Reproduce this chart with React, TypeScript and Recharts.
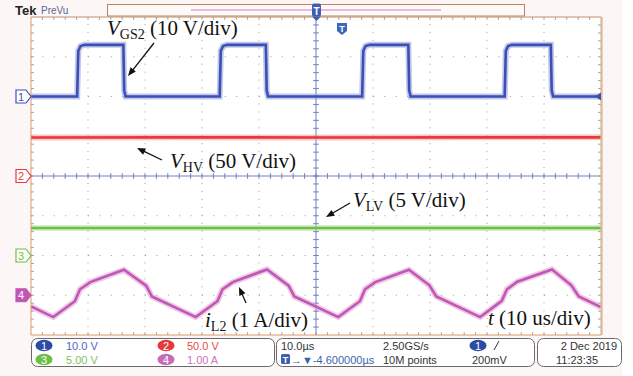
import { LineChart, Line, XAxis, YAxis, ReferenceLine } from "recharts";

// time base: 10 us/div, 10 divisions; vertical: 8 divisions
const timeDomain = [0, 100];
const divDomain = [-4, 4];

// CH1 V_GS2 (10 V/div), ground marker at +2 div
const gateTime = [0, 8.1, 8.3, 8.7, 9.4, 16.2, 16.35, 16.6, 33.1, 33.3, 33.7, 34.4, 41.2, 41.35, 41.6, 58.1, 58.3, 58.7, 59.4, 66.2, 66.35, 66.6, 83.1, 83.3, 83.7, 84.4, 91.2, 91.35, 91.6, 100];
const gateVolts = [0, 0, 11.5, 12.7, 13, 13, 1.5, 0, 0, 11.5, 12.7, 13, 13, 1.5, 0, 0, 11.5, 12.7, 13, 13, 1.5, 0, 0, 11.5, 12.7, 13, 13, 1.5, 0, 0];

// CH2 V_HV (50 V/div), ground marker at 0 div
const hvTime = [0, 25, 50, 75, 100];
const hvVolts = [48.5, 48.6, 48.5, 48.6, 48.6];

// CH3 V_LV (5 V/div), ground marker at -2 div
const lvTime = [0, 25, 50, 75, 100];
const lvVolts = [3.45, 3.45, 3.46, 3.45, 3.45];

// CH4 i_L2 (1 A/div), ground marker at -3 div
const iTime = [0, 3.9, 7.7, 8.6, 10.4, 16.3, 20.2, 21.2, 28.9, 32.7, 33.6, 35.4, 41.4, 45.2, 46.2, 53.9, 57.7, 58.6, 60.4, 66.3, 69.9, 71.1, 78.8, 82.6, 83.5, 85.3, 91.4, 94.8, 96.1, 100];
const iAmps = [-0.28, -0.55, -0.15, 0.15, 0.33, 0.64, 0.24, -0.03, -0.55, -0.15, 0.15, 0.33, 0.65, 0.24, -0.03, -0.55, -0.15, 0.15, 0.33, 0.64, 0.25, -0.03, -0.55, -0.14, 0.15, 0.34, 0.65, 0.25, -0.03, -0.3];

const channels = [
  { id: "ch1", time: gateTime, vals: gateVolts, perDiv: 10, offset: 2, color: "#3b4fb4", halo: "#8f9ad8" },
  { id: "ch2", time: hvTime, vals: hvVolts, perDiv: 50, offset: 0, color: "#e8383a", halo: "#f39a9a" },
  { id: "ch3", time: lvTime, vals: lvVolts, perDiv: 5, offset: -2, color: "#6cbf45", halo: "#b3e09a" },
  { id: "ch4", time: iTime, vals: iAmps, perDiv: 1, offset: -3, color: "#c257b3", halo: "#dea0d6" },
];

const W = 633;
const H = 376;
const PL = 31;
const PT = 17;
const PW = 570;
const PH = 318;
const divH = PH / 8;
const yOf = (d: number) => PT + (4 - d) * divH;

const majorX = [10, 20, 30, 40, 60, 70, 80, 90];
const majorY = [-3, -2, -1, 1, 2, 3];
const minorX = Array.from({ length: 49 }, (_, i) => (i + 1) * 2);
const minorY = Array.from({ length: 39 }, (_, i) => -4 + (i + 1) * 0.2);

const tickH = 0.07;
const tickW = 0.5;

const Marker = ({ n, d, color, filled }: { n: string; d: number; color: string; filled?: boolean }) => {
  const y = yOf(d);
  return (
    <g>
      <path
        d={`M16,${y - 6.5} h10 l5,6.5 l-5,6.5 h-10 z`}
        fill={filled ? color : "#fff"}
        stroke={color}
        strokeWidth={1.2}
      />
      <text x={21} y={y + 4} textAnchor="middle" fontSize={11} fontFamily="Liberation Sans" fill={filled ? "#fff" : color}>
        {n}
      </text>
    </g>
  );
};

const Badge = ({ x, y, n, color }: { x: number; y: number; n: string; color: string }) => (
  <g>
    <ellipse cx={x} cy={y} rx={8.5} ry={5.8} fill={color} />
    <text x={x} y={y + 4} textAnchor="middle" fontSize={11} fontFamily="Liberation Sans" fill="#fff">
      {n}
    </text>
  </g>
);

const Arrow = ({ x1, y1, x2, y2 }: { x1: number; y1: number; x2: number; y2: number }) => {
  const a = Math.atan2(y2 - y1, x2 - x1);
  const L = 9;
  const s = 0.38;
  const p1 = [x2 - L * Math.cos(a - s), y2 - L * Math.sin(a - s)];
  const p2 = [x2 - L * Math.cos(a + s), y2 - L * Math.sin(a + s)];
  return (
    <g>
      <line x1={x1} y1={y1} x2={x2 - 5 * Math.cos(a)} y2={y2 - 5 * Math.sin(a)} stroke="#111" strokeWidth={1.3} />
      <path d={`M${x2},${y2} L${p1[0]},${p1[1]} L${p2[0]},${p2[1]} z`} fill="#111" />
    </g>
  );
};

const serif = "Liberation Serif";
const sans = "Liberation Sans";

export default function App() {
  return (
    <div style={{ position: "absolute", left: 0, top: 0, width: W, height: H, background: "#fdf6f6", overflow: "hidden" }}>
      <div style={{ position: "absolute", left: 622, top: 0, width: 11, height: H, background: "#fff" }} />
      <div style={{ position: "absolute", left: PL, top: PT, width: PW, height: PH, background: "#fff" }} />
      <div style={{ position: "absolute", left: 0, top: 0 }}>
        <LineChart width={W} height={H} margin={{ top: PT, right: W - PL - PW, bottom: H - PT - PH, left: PL }}>
          <XAxis type="number" dataKey="t" domain={timeDomain} hide allowDataOverflow />
          <YAxis type="number" domain={divDomain} hide allowDataOverflow />
          {majorX.map((x) => (
            <ReferenceLine key={`gx${x}`} x={x} stroke="#9a9a9a" strokeDasharray="1 6.95" />
          ))}
          {majorY.map((y) => (
            <ReferenceLine key={`gy${y}`} y={y} stroke="#9a9a9a" strokeDasharray="1 10.4" />
          ))}
          <ReferenceLine x={50} stroke="#6f7fc4" />
          <ReferenceLine y={0} stroke="#6f7fc4" />
          {minorX.map((x) => (
            <ReferenceLine key={`cx${x}`} segment={[{ x, y: -tickH }, { x, y: tickH }]} stroke="#6f7fc4" />
          ))}
          {minorY.map((y) => (
            <ReferenceLine key={`cy${y}`} segment={[{ x: 50 - tickW, y }, { x: 50 + tickW, y }]} stroke="#6f7fc4" />
          ))}
          {minorX.map((x) => (
            <ReferenceLine key={`tx${x}`} segment={[{ x, y: 4 }, { x, y: 4 - tickH }]} stroke="#a0a0a0" />
          ))}
          {minorX.map((x) => (
            <ReferenceLine key={`bx${x}`} segment={[{ x, y: -4 }, { x, y: -4 + tickH }]} stroke="#a0a0a0" />
          ))}
          {minorY.map((y) => (
            <ReferenceLine key={`ly${y}`} segment={[{ x: 0, y }, { x: tickW, y }]} stroke="#a0a0a0" />
          ))}
          {minorY.map((y) => (
            <ReferenceLine key={`ry${y}`} segment={[{ x: 100 - tickW, y }, { x: 100, y }]} stroke="#a0a0a0" />
          ))}
          {channels.map((c) => (
            <Line
              key={`${c.id}h`}
              data={c.time.map((t, i) => ({ t, y: c.offset + c.vals[i] / c.perDiv }))}
              dataKey="y"
              type="linear"
              stroke={c.halo}
              strokeOpacity={0.55}
              strokeWidth={6}
              dot={false}
              activeDot={false}
              isAnimationActive={false}
            />
          ))}
          {channels.map((c) => (
            <Line
              key={c.id}
              data={c.time.map((t, i) => ({ t, y: c.offset + c.vals[i] / c.perDiv }))}
              dataKey="y"
              type="linear"
              stroke={c.color}
              strokeWidth={2.6}
              dot={false}
              activeDot={false}
              isAnimationActive={false}
            />
          ))}
        </LineChart>
      </div>
      <svg width={W} height={H} style={{ position: "absolute", left: 0, top: 0, pointerEvents: "none" }}>
        {/* header */}
        <text x={15} y={15} fontFamily={sans} fontWeight="bold" fontSize={13} fill="#222">Tek</text>
        <text x={41} y={14} fontFamily={sans} fontSize={10} fill="#5a6790">PreVu</text>
        <rect x={107.5} y={4.5} width={417} height={11.5} fill="#fffafa" stroke="#b98458" strokeWidth={1} />
        <line x1={191} y1={10} x2={441} y2={10} stroke="#e2a3d6" strokeWidth={1.6} />

        {/* plot frame */}
        <line x1={PL} y1={PT} x2={PL + PW} y2={PT} stroke="#c08e68" strokeWidth={1} />
        <line x1={PL} y1={PT} x2={PL} y2={PT + PH} stroke="#d99a68" strokeWidth={1} />
        <line x1={PL} y1={PT + PH} x2={PL + PW} y2={PT + PH} stroke="#d99a68" strokeWidth={1} />
        <line x1={PL + PW + 0.5} y1={PT} x2={PL + PW + 0.5} y2={PT + PH} stroke="#d9b896" strokeWidth={2.2} />

        {/* trigger markers */}
        <rect x={312} y={3.5} width={9} height={13} rx={2} fill="#3d5fb0" />
        <text x={316.5} y={14.5} textAnchor="middle" fontFamily={sans} fontWeight="bold" fontSize={10} fill="#fff">T</text>
        <path d="M312,16.5 L321,16.5 L316.5,21 z" fill="#3d5fb0" />
        <path d="M337,23 h10 v8 l-5,4 l-5,-4 z" fill="#3e66bb" />
        <text x={342} y={32} textAnchor="middle" fontFamily={sans} fontWeight="bold" fontSize={9} fill="#fff">T</text>
        <path d={`M595,${yOf(2)} L601,${yOf(2) - 4} L601,${yOf(2) + 4} z`} fill="#3b4fb4" />

        {/* channel ground markers */}
        <Marker n="1" d={2} color="#3b4fb4" />
        <Marker n="2" d={0} color="#e8383a" />
        <Marker n="3" d={-2} color="#6cbf45" />
        <Marker n="4" d={-3} color="#c257b3" filled />

        {/* annotations */}
        <text x={107} y={35} fontFamily={serif} fontSize={21} fill="#111">
          <tspan fontStyle="italic">V</tspan>
          <tspan fontSize={14} dy={4}>GS2</tspan>
          <tspan dy={-4}> (10 V/div)</tspan>
        </text>
        <Arrow x1={154} y1={43} x2={128} y2={76} />
        <text x={170} y={168} fontFamily={serif} fontSize={21} fill="#111">
          <tspan fontStyle="italic">V</tspan>
          <tspan fontSize={14} dy={4}>HV</tspan>
          <tspan dy={-4}> (50 V/div)</tspan>
        </text>
        <Arrow x1={162} y1={160} x2={137} y2={148} />
        <text x={353} y={207} fontFamily={serif} fontSize={21} fill="#111">
          <tspan fontStyle="italic">V</tspan>
          <tspan fontSize={14} dy={4}>LV</tspan>
          <tspan dy={-4}> (5 V/div)</tspan>
        </text>
        <Arrow x1={350} y1={203} x2={326} y2={217} />
        <text x={205} y={327} fontFamily={serif} fontSize={21} fill="#111">
          <tspan fontStyle="italic">i</tspan>
          <tspan fontSize={14} dy={4}>L2</tspan>
          <tspan dy={-4}> (1 A/div)</tspan>
        </text>
        <Arrow x1={246} y1={303} x2={239} y2={287} />
        <text x={488} y={325} fontFamily={serif} fontSize={21} fill="#111">
          <tspan fontStyle="italic">t</tspan>
          <tspan> (10 us/div)</tspan>
        </text>

        {/* bottom readout */}
        <rect x={31.5} y={338.5} width={243} height={28} rx={6} fill="#fff" stroke="#6a6a6a" />
        <rect x={276.5} y={338.5} width={258} height={28} rx={6} fill="#fff" stroke="#6a6a6a" />
        <rect x={537.5} y={338.5} width={84} height={28} rx={6} fill="#fff" stroke="#6a6a6a" />

        <Badge x={44} y={345.5} n="1" color="#2b4ba6" />
        <Badge x={44} y={359.5} n="3" color="#6cbf45" />
        <Badge x={166} y={345.5} n="2" color="#e8383a" />
        <Badge x={166} y={359.5} n="4" color="#c66bb8" />
        <text x={66} y={349.5} fontFamily={sans} fontSize={11} fill="#5262c2">10.0 V</text>
        <text x={66} y={363.5} fontFamily={sans} fontSize={11} fill="#7fc25a">5.00 V</text>
        <text x={187} y={349.5} fontFamily={sans} fontSize={11} fill="#e84a46">50.0 V</text>
        <text x={187} y={363.5} fontFamily={sans} fontSize={11} fill="#c876bd">1.00 A</text>

        <text x={281} y={349.5} fontFamily={sans} fontSize={11} fill="#333">10.0µs</text>
        <rect x={281} y={354} width={9} height={10} rx={1.5} fill="#3d5fb0" />
        <text x={285.5} y={362.5} textAnchor="middle" fontFamily={sans} fontWeight="bold" fontSize={9} fill="#fff">T</text>
        <text x={291} y={363.5} fontFamily={sans} fontSize={11} fill="#3d5fb0">→▼-4.600000µs</text>
        <text x={383} y={349.5} fontFamily={sans} fontSize={11} fill="#333">2.50GS/s</text>
        <text x={383} y={363.5} fontFamily={sans} fontSize={11} fill="#333">10M points</text>
        <Badge x={478} y={345.5} n="1" color="#2b4ba6" />
        <line x1={494} y1={350} x2={499} y2={341} stroke="#333" strokeWidth={1} />
        <text x={472} y={363.5} fontFamily={sans} fontSize={11} fill="#333">200mV</text>

        <text x={617} y={349.5} textAnchor="end" fontFamily={sans} fontSize={11} fill="#333">2 Dec  2019</text>
        <text x={556} y={363.5} fontFamily={sans} fontSize={11} fill="#333">11:23:35</text>
      </svg>
    </div>
  );
}
